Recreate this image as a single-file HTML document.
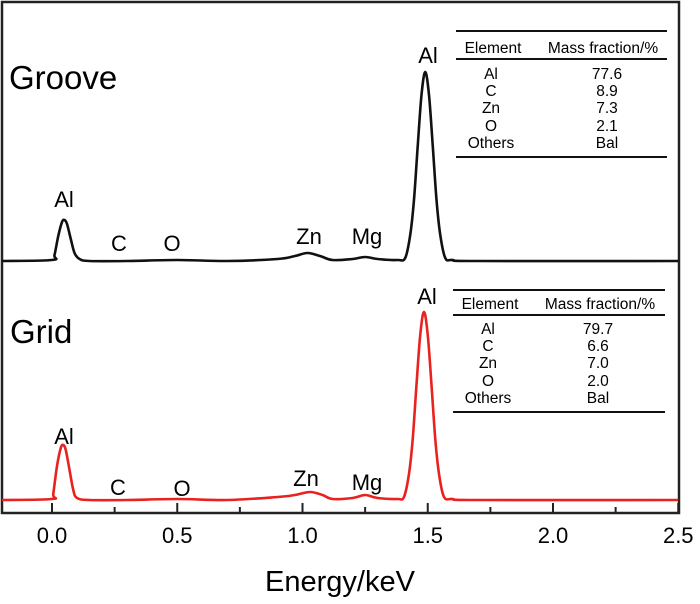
<!DOCTYPE html>
<html><head><meta charset="utf-8"><style>
body{margin:0;background:#fff}
svg{display:block;font-family:"Liberation Sans",Arial,sans-serif}
</style></head><body>
<svg id="c" width="700" height="604">
<rect x="2" y="2" width="677" height="511" fill="none" stroke="#222" stroke-width="2.5"/>
<g id="ticks"></g>
<g id="series"></g>
<text x="9" y="89" font-size="33">Groove</text>
<text x="10" y="343" font-size="33">Grid</text>
<g font-size="22" text-anchor="middle">
<text x="64" y="207">Al</text><text x="119" y="251">C</text><text x="172" y="251">O</text>
<text x="309" y="244">Zn</text><text x="367" y="244">Mg</text><text x="428" y="63">Al</text>
</g>
<g font-size="22" text-anchor="middle">
<text x="64" y="444">Al</text><text x="118" y="495">C</text><text x="182" y="496">O</text>
<text x="306" y="486">Zn</text><text x="367" y="490">Mg</text><text x="427" y="304">Al</text>
</g>
<g font-size="15.5" text-anchor="middle">
<line x1="456" y1="31" x2="667" y2="31" stroke="#111" stroke-width="2"/>
<line x1="456" y1="59" x2="667" y2="59" stroke="#111" stroke-width="2"/>
<line x1="456" y1="157" x2="667" y2="157" stroke="#111" stroke-width="2"/>
<text x="493" y="53">Element</text><text x="603" y="53">Mass fraction/%</text>
<text x="491" y="79">Al</text><text x="607" y="79">77.6</text>
<text x="491" y="96">C</text><text x="607" y="96">8.9</text>
<text x="491" y="113">Zn</text><text x="607" y="113">7.3</text>
<text x="491" y="131">O</text><text x="607" y="131">2.1</text>
<text x="491" y="148">Others</text><text x="607" y="148">Bal</text>
</g>
<g font-size="15.5" text-anchor="middle">
<line x1="453" y1="290" x2="665" y2="290" stroke="#111" stroke-width="2"/>
<line x1="453" y1="315" x2="665" y2="315" stroke="#111" stroke-width="2"/>
<line x1="453" y1="412" x2="665" y2="412" stroke="#111" stroke-width="2"/>
<text x="490" y="309">Element</text><text x="600" y="309">Mass fraction/%</text>
<text x="488" y="334">Al</text><text x="598" y="334">79.7</text>
<text x="488" y="351">C</text><text x="598" y="351">6.6</text>
<text x="488" y="368">Zn</text><text x="598" y="368">7.0</text>
<text x="488" y="386">O</text><text x="598" y="386">2.0</text>
<text x="488" y="403">Others</text><text x="598" y="403">Bal</text>
</g>
<text x="340" y="591" font-size="29" text-anchor="middle">Energy/keV</text>
</svg>
<script>
const energy = [-0.2,0.0,0.01,0.025,0.04,0.05,0.06,0.075,0.09,0.11,0.15,0.3,0.5,0.7,0.9,0.97,1.02,1.07,1.12,1.2,1.25,1.3,1.38,1.41,1.43,1.445,1.46,1.475,1.49,1.505,1.52,1.535,1.55,1.57,1.6,1.7,2.5];
const grooveCounts = [0,1,6,25,39,41,37,22,8,2,0,0,1,0,2,5,8,5,1,2,4,2,1,3,26,61,115,166,189,166,115,61,26,3,1,0,0];
const gridEnergy = [-0.2,0.0,0.005,0.02,0.035,0.045,0.055,0.07,0.085,0.1,0.15,0.3,0.5,0.7,0.9,0.97,1.03,1.08,1.12,1.2,1.25,1.3,1.38,1.405,1.425,1.44,1.455,1.47,1.485,1.5,1.515,1.53,1.545,1.565,1.6,1.7,2.5];
const gridCounts = [0,1,6,34,52,55,50,30,10,2,0,0,1,0,3,5,8,5,1,2,5,2,1,3,26,61,115,165,188,165,115,61,26,3,1,0,0];
const xTicks = [0,0.5,1.0,1.5,2.0,2.5];
const xTickLabels = ["0.0","0.5","1.0","1.5","2.0","2.5"];
const minorTicks = [0.25,0.75,1.25,1.75,2.25];

const ns="http://www.w3.org/2000/svg";
const x = e => 52 + (e-0)*250.5;
const yGroove = v => 261 - v;
const yGrid = v => 500 - v;
function pathFrom(xs, vs, ys){
  const p = xs.map((e,i)=>[x(e), ys(vs[i])]);
  let d = `M${p[0][0]},${p[0][1]}`;
  for(let i=0;i<p.length-1;i++){
    const p0=p[i-1]||p[i], p1=p[i], p2=p[i+1], p3=p[i+2]||p2;
    const t=1/6;
    let c1y=p1[1]+(p2[1]-p0[1])*t, c2y=p2[1]-(p3[1]-p1[1])*t;
    const lo=Math.min(p1[1],p2[1]), hi=Math.max(p1[1],p2[1]);
    c1y=Math.min(Math.max(c1y,lo-3),hi+3); c2y=Math.min(Math.max(c2y,lo-3),hi+3);
    d+=` C${p1[0]+(p2[0]-p0[0])*t},${c1y} ${p2[0]-(p3[0]-p1[0])*t},${c2y} ${p2[0]},${p2[1]}`;
  }
  return d;
}
const sg=document.getElementById('series');
const a=document.createElementNS(ns,'path');
a.setAttribute('d',pathFrom(energy,grooveCounts,yGroove));
a.setAttribute('fill','none');a.setAttribute('stroke','#111');a.setAttribute('stroke-width','2.6');


sg.appendChild(a);
const b=document.createElementNS(ns,'path');
b.setAttribute('d',pathFrom(gridEnergy,gridCounts,yGrid));
b.setAttribute('fill','none');b.setAttribute('stroke','#e8231f');b.setAttribute('stroke-width','2.6');


sg.appendChild(b);
const tg=document.getElementById('ticks');
xTicks.forEach((t,i)=>{
  const l=document.createElementNS(ns,'line');
  l.setAttribute('x1',x(t));l.setAttribute('x2',x(t));l.setAttribute('y1',513);l.setAttribute('y2',503);
  l.setAttribute('stroke','#222');l.setAttribute('stroke-width','2');
  
  
  tg.appendChild(l);
  const tx=document.createElementNS(ns,'text');
  tx.setAttribute('x',x(t));tx.setAttribute('y',543);tx.setAttribute('font-size','22');tx.setAttribute('text-anchor','middle');
  tx.textContent=xTickLabels[i];
  
  
  tg.appendChild(tx);
});
minorTicks.forEach(t=>{
  const l=document.createElementNS(ns,'line');
  l.setAttribute('x1',x(t));l.setAttribute('x2',x(t));l.setAttribute('y1',513);l.setAttribute('y2',507);
  l.setAttribute('stroke','#222');l.setAttribute('stroke-width','2');
  
  
  tg.appendChild(l);
});
</script>
</body></html>
